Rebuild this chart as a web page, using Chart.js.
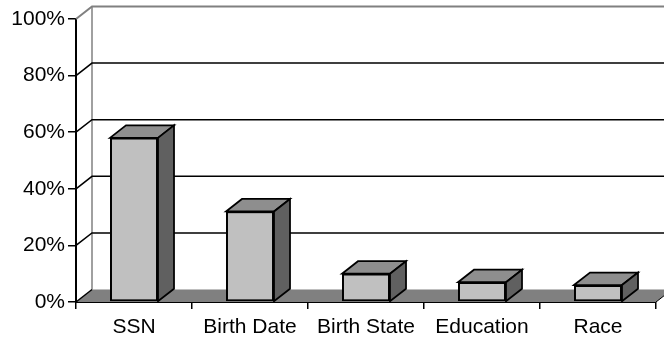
<!DOCTYPE html>
<html>
<head>
<meta charset="utf-8">
<script src="https://cdn.jsdelivr.net/npm/chart.js@4/dist/chart.umd.min.js"></script>
<style>
  html, body { margin: 0; padding: 0; background: #ffffff; }
  canvas { display: block; }
</style>
</head>
<body>
<canvas id="chart" width="664" height="341"></canvas>
<script>
// Share of records with each field
const categories = ['SSN', 'Birth Date', 'Birth State', 'Education', 'Race'];
const shares = [58, 32, 10, 7, 6];
const yTicks = [0, 20, 40, 60, 80, 100];

// Depth of the 3D box (offset from front plane to back wall)
const DEPTH_X = 16;
const DEPTH_Y = -12.5;

const COLORS = {
  front: '#c0c0c0',
  top: '#8e8e8e',
  side: '#606060',
  floor: '#808080',
  wallEdge: '#808080',
  line: '#000000'
};

const box3d = {
  id: 'box3d',
  beforeDatasetsDraw(chart) {
    const { ctx, chartArea: a, scales: { y } } = chart;
    const W = chart.width;
    ctx.save();

    // floor
    ctx.fillStyle = COLORS.floor;
    ctx.beginPath();
    ctx.moveTo(a.left, a.bottom);
    ctx.lineTo(a.left + DEPTH_X, a.bottom + DEPTH_Y);
    ctx.lineTo(a.right + DEPTH_X, a.bottom + DEPTH_Y);
    ctx.lineTo(a.right, a.bottom);
    ctx.closePath();
    ctx.fill();

    // right edge of the floor
    ctx.strokeStyle = COLORS.line;
    ctx.lineWidth = 1;
    ctx.beginPath();
    ctx.moveTo(a.right, a.bottom);
    ctx.lineTo(a.right + DEPTH_X, a.bottom + DEPTH_Y);
    ctx.stroke();

    // left edge of the back wall
    ctx.strokeStyle = COLORS.wallEdge;
    ctx.lineWidth = 1.5;
    ctx.beginPath();
    ctx.moveTo(a.left + DEPTH_X, y.getPixelForValue(100) + DEPTH_Y);
    ctx.lineTo(a.left + DEPTH_X, a.bottom + DEPTH_Y);
    ctx.stroke();

    // gridlines: diagonal across the side wall, then along the back wall
    yTicks.forEach(v => {
      const py = y.getPixelForValue(v);
      const isTop = v === yTicks[yTicks.length - 1];
      ctx.strokeStyle = isTop ? COLORS.wallEdge : COLORS.line;
      ctx.lineWidth = isTop ? 2 : 1.5;
      ctx.beginPath();
      ctx.moveTo(a.left, py);
      ctx.lineTo(a.left + DEPTH_X, py + DEPTH_Y);
      if (v !== 0) ctx.lineTo(W + 20, py + DEPTH_Y);
      ctx.stroke();
    });

    ctx.restore();
  },
  afterDatasetsDraw(chart) {
    const { ctx } = chart;
    const meta = chart.getDatasetMeta(0);
    ctx.save();
    ctx.strokeStyle = COLORS.line;
    ctx.lineWidth = 1.75;
    ctx.lineJoin = 'miter';
    meta.data.forEach(bar => {
      const { x, y, base, width } = bar.getProps(['x', 'y', 'base', 'width'], true);
      const l = x - width / 2, r = x + width / 2;
      // top face
      ctx.fillStyle = COLORS.top;
      ctx.beginPath();
      ctx.moveTo(l, y);
      ctx.lineTo(l + DEPTH_X, y + DEPTH_Y);
      ctx.lineTo(r + DEPTH_X, y + DEPTH_Y);
      ctx.lineTo(r, y);
      ctx.closePath();
      ctx.fill();
      ctx.stroke();
      // side face
      ctx.fillStyle = COLORS.side;
      ctx.beginPath();
      ctx.moveTo(r, y);
      ctx.lineTo(r + DEPTH_X, y + DEPTH_Y);
      ctx.lineTo(r + DEPTH_X, base + DEPTH_Y);
      ctx.lineTo(r, base);
      ctx.closePath();
      ctx.fill();
      ctx.stroke();
    });
    ctx.restore();
  }
};

Chart.defaults.font.family = '"Liberation Sans", Arial, sans-serif';
Chart.defaults.font.size = 21;
Chart.defaults.color = '#000000';

new Chart(document.getElementById('chart'), {
  type: 'bar',
  data: {
    labels: categories,
    datasets: [{
      data: shares,
      backgroundColor: COLORS.front,
      borderColor: COLORS.line,
      borderWidth: 2,
      borderSkipped: false,
      categoryPercentage: 1,
      barPercentage: 0.414
    }]
  },
  options: {
    responsive: false,
    animation: false,
    events: [],
    layout: { padding: { top: 19, right: 8, left: 0, bottom: 0 } },
    plugins: { legend: { display: false }, tooltip: { enabled: false } },
    scales: {
      x: {
        z: 1,
        grid: {
          offset: true,
          drawOnChartArea: false,
          drawTicks: true,
          tickLength: 7,
          color: COLORS.line,
          lineWidth: 1.5
        },
        border: { display: true, color: COLORS.line, width: 2 },
        ticks: { padding: 6, maxRotation: 0, autoSkip: false },
        afterFit(scale) { scale.height = 39; }
      },
      y: {
        z: 1,
        min: 0,
        max: 100,
        afterBuildTicks(scale) { scale.ticks = yTicks.map(v => ({ value: v })); },
        grid: {
          drawOnChartArea: false,
          drawTicks: true,
          tickLength: 8,
          color: COLORS.line,
          lineWidth: 1.5
        },
        border: { display: true, color: COLORS.line, width: 2 },
        ticks: { padding: 3, callback: v => v + '%' },
        afterFit(scale) { scale.width = 76; }
      }
    }
  },
  plugins: [box3d]
});
</script>
</body>
</html>
